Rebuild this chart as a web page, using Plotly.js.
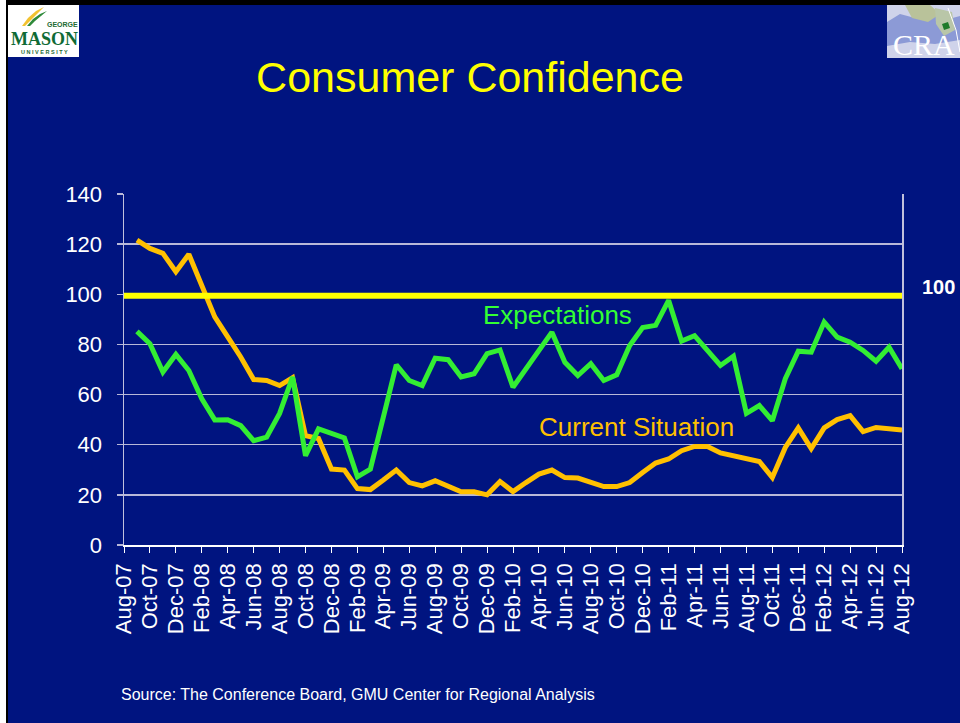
<!DOCTYPE html>
<html>
<head>
<meta charset="utf-8">
<script src="https://cdn.plot.ly/plotly-3.0.1.min.js"></script>
<style>
  html, body { margin: 0; padding: 0; background: #001480; }
  #chart { width: 960px; height: 723px; }
</style>
</head>
<body>
<div id="chart"></div>
<script>
// ---- data ----
const months = [
  "Aug-07","Sep-07","Oct-07","Nov-07","Dec-07","Jan-08","Feb-08","Mar-08","Apr-08","May-08","Jun-08","Jul-08",
  "Aug-08","Sep-08","Oct-08","Nov-08","Dec-08","Jan-09","Feb-09","Mar-09","Apr-09","May-09","Jun-09","Jul-09",
  "Aug-09","Sep-09","Oct-09","Nov-09","Dec-09","Jan-10","Feb-10","Mar-10","Apr-10","May-10","Jun-10","Jul-10",
  "Aug-10","Sep-10","Oct-10","Nov-10","Dec-10","Jan-11","Feb-11","Mar-11","Apr-11","May-11","Jun-11","Jul-11",
  "Aug-11","Sep-11","Oct-11","Nov-11","Dec-11","Jan-12","Feb-12","Mar-12","Apr-12","May-12","Jun-12","Jul-12",
  "Aug-12"
];
const expectations = [
  null,
  85.2, 80.3, 69.0, 76.0, 69.6, 58.3, 49.9, 50.0, 47.6, 41.6, 43.0, 52.5,
  67.0, 35.6, 46.3, 44.7, 42.7, 27.2, 30.3, 51.0, 71.9, 65.6, 63.6, 74.5,
  73.9, 67.0, 68.3, 76.3, 77.8, 62.9, 70.3, 77.6, 84.9, 72.9, 67.6, 72.3,
  65.6, 67.9, 79.6, 86.7, 87.6, 97.6, 81.3, 83.5, 77.2, 71.6, 75.3, 52.5,
  55.6, 49.6, 66.3, 77.3, 76.9, 88.9, 82.9, 80.9, 77.6, 73.3, 78.9, 70.3
];
const currentSituation = [
  null,
  121.6, 118.3, 116.3, 109.0, 116.0, 104.0, 91.0, 83.0, 75.0, 66.0, 65.6, 63.6,
  66.7, 43.6, 42.5, 30.3, 29.9, 22.5, 22.1, 25.9, 29.9, 24.9, 23.6, 25.6,
  23.3, 21.2, 21.2, 20.0, 25.3, 21.3, 24.9, 28.3, 29.9, 26.9, 26.7, 24.9,
  23.3, 23.3, 24.9, 28.9, 32.7, 34.3, 37.6, 39.3, 39.3, 36.7, 35.6, 34.3,
  33.3, 26.9, 38.9, 46.7, 38.5, 46.7, 50.0, 51.6, 45.2, 46.9, 46.3, 45.9
];
const referenceLevel = months.map(() => 99.4);
const yTicks = [0, 20, 40, 60, 80, 100, 120, 140];

// ---- layout helpers (page pixels -> paper coords) ----
const L = 124, R = 902, T = 194, B = 545;
const px = X => (X - L) / (R - L);
const py = Y => (B - Y) / (B - T);
const rect = (x0, y0, x1, y1, fill) => ({
  type: 'rect', xref: 'paper', yref: 'paper',
  x0: px(x0), x1: px(x1), y0: py(y1), y1: py(y0),
  fillcolor: fill, line: { width: 0 }
});
const path = (pts, fill, stroke, w) => ({
  type: 'path', xref: 'paper', yref: 'paper',
  path: 'M' + pts.map(p => px(p[0]) + ',' + py(p[1])).join('L') + (fill ? 'Z' : ''),
  fillcolor: fill || 'rgba(0,0,0,0)',
  line: { color: stroke || 'rgba(0,0,0,0)', width: w || 0 }
});
const FONT = 'Arial, Liberation Sans, sans-serif';
const SERIF = 'Liberation Serif, Times New Roman, serif';
const note = (text, X, Y, size, color, extra) => Object.assign({
  text: text, xref: 'paper', yref: 'paper', x: px(X), y: py(Y),
  xanchor: 'center', yanchor: 'middle', showarrow: false, borderpad: 0,
  font: { family: FONT, size: size, color: color }
}, extra || {});

const traces = [
  {
    x: months, y: currentSituation, type: 'scatter', mode: 'lines',
    name: 'Current Situation', line: { color: '#ffc000', width: 5 }, hoverinfo: 'skip'
  },
  {
    x: months, y: expectations, type: 'scatter', mode: 'lines',
    name: 'Expectations', line: { color: '#33ee33', width: 5 }, hoverinfo: 'skip'
  },
  {
    x: months, y: referenceLevel, type: 'scatter', mode: 'lines',
    name: '100', line: { color: '#ffff00', width: 6 }, hoverinfo: 'skip'
  }
];

const shapes = [
  // slide frame
  rect(0, 0, 6, 723, '#ffffff'),
  rect(6, 0, 8, 723, '#000000'),
  rect(6, 0, 960, 5, '#000000'),
  // GMU logo
  rect(8, 5, 79, 57, '#ffffff'),
  path([[22, 26], [28, 18], [36, 11], [44, 7], [38, 13], [31, 20], [25, 26]], '#f2c230'),
  path([[27, 26], [33, 19], [40, 14], [47, 11], [41, 16], [35, 21], [30, 26]], '#2f8a3a'),
  // CRA logo
  rect(887, 5, 960, 58, '#cfd3ea'),
  path([[887, 22], [900, 14], [915, 18], [930, 12], [945, 20], [960, 16], [960, 40], [935, 44], [910, 42], [887, 46]], '#8c9ad6'),
  path([[905, 5], [930, 5], [940, 14], [928, 22], [912, 18]], '#b9c29a'),
  path([[935, 8], [952, 12], [955, 30], [944, 36], [936, 24]], '#b9c6a8'),
  path([[942, 24], [948, 22], [950, 28], [944, 30]], '#1f7a2a'),
  path([[948, 8], [956, 30], [960, 52]], null, '#ffffff', 1)
];

const annotations = [
  note('Expectations', 557, 315, 26, '#33ff33'),
  note('Current Situation', 636, 427, 26, '#ffc000'),
  note('<b>100</b>', 938.5, 287, 20, '#ffffff'),
  note('Source: The Conference Board, GMU Center for Regional Analysis', 120, 694, 16, '#ffffff', { xanchor: 'left' }),
  // GMU logo text
  note('<b>GEORGE</b>', 62, 24, 7, '#1d6b33'),
  note('<b>MASON</b>', 44, 39, 18, '#0f6b35', { font: { family: SERIF, size: 18, color: '#0f6b35' } }),
  note('<b>U N I V E R S I T Y</b>', 44, 52, 5.5, '#1d6b33'),
  // CRA logo text
  note('CRA', 924, 44, 30, '#ffffff', { font: { family: SERIF, size: 30, color: '#ffffff' } })
];

const layout = {
  width: 960, height: 723,
  margin: { l: L, r: 960 - R, t: T, b: 723 - B, pad: 0 },
  paper_bgcolor: '#001480',
  plot_bgcolor: '#001480',
  showlegend: false,
  title: {
    text: 'Consumer Confidence',
    x: 470 / 960, xanchor: 'center', xref: 'container',
    y: 1 - 77 / 723, yanchor: 'middle', yref: 'container',
    font: { family: FONT, size: 43, color: '#ffff00' }
  },
  xaxis: {
    type: 'category',
    range: [0, months.length - 1],
    tickmode: 'linear', tick0: 0, dtick: 2,
    tickangle: -90,
    ticks: 'outside', ticklen: 6, tickcolor: '#ffffff', tickwidth: 1,
    showline: true, linecolor: '#ffffff', linewidth: 1.5,
    showgrid: false, zeroline: false,
    tickfont: { family: FONT, size: 22, color: '#ffffff' },
    ticklabelstandoff: 2,
    fixedrange: true
  },
  yaxis: {
    range: [0, 140],
    tickmode: 'array', tickvals: yTicks, ticktext: yTicks.map(String),
    ticks: 'outside', ticklen: 6, tickcolor: '#b8b8d8', tickwidth: 1.5,
    showline: true, mirror: true, linecolor: '#c0c0dc', linewidth: 1.5,
    showgrid: true, gridcolor: '#b8b8d8', gridwidth: 1.5,
    zeroline: false,
    tickfont: { family: FONT, size: 22, color: '#ffffff' },
    ticklabelstandoff: 10,
    fixedrange: true
  },
  shapes: shapes,
  annotations: annotations
};

Plotly.newPlot('chart', traces, layout, { displayModeBar: false, staticPlot: true });
</script>
</body>
</html>
